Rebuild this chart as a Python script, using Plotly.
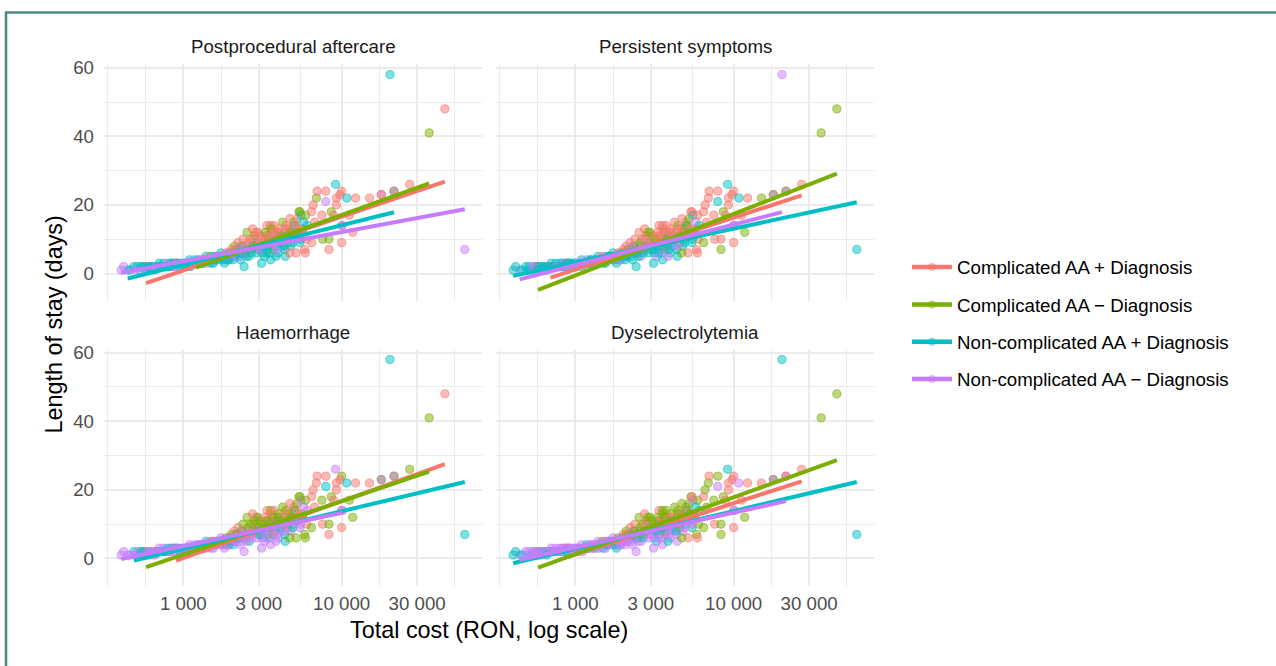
import numpy as np
import plotly.graph_objects as go

# ---------------- data ----------------
panel_titles = ["Postprocedural aftercare", "Persistent symptoms", "Haemorrhage", "Dyselectrolytemia"]
group_names = ["Complicated AA + Diagnosis", "Complicated AA \u2212 Diagnosis",
               "Non-complicated AA + Diagnosis", "Non-complicated AA \u2212 Diagnosis"]
group_colors = ["#F8766D", "#7CAE00", "#00BFC4", "#C77CFF"]
x_tick_values = [1000, 3000, 10000, 30000]
x_tick_labels = ["1 000", "3 000", "10 000", "30 000"]
y_tick_values = [0, 20, 40, 60]

# total cost (RON) per patient
cost = [405, 445, 487, 510, 530, 548, 565, 582, 590, 605, 620, 640, 655, 672, 690, 697, 705, 720, 738, 752,
        768, 785, 800, 815, 832, 848, 862, 878, 895, 900, 910,
        930, 950, 975, 1000, 1020, 1045, 1070, 1095, 1120, 1150, 1180, 1200, 1210, 1240, 1270, 1300, 1330, 1360, 1390, 1420,
        1450, 1480, 1510, 1545, 1580, 1615, 1650, 1690, 1730, 1770,
        1800, 1830, 1860, 1890, 1920, 1950, 1980, 2010, 2040, 2070, 2100, 2130, 2160, 2190, 2220, 2250, 2280, 2310, 2340, 2380,
        2420, 2450, 2490, 2530, 2570, 2610, 2650, 2700, 2740, 2780, 2830, 2880, 2930, 2980, 3040, 3100,
        3150, 3200, 3250, 3300, 3350, 3380, 3420, 3460, 3500, 3550, 3600, 3640, 3690, 3740, 3790, 3840, 3900, 3950, 4000, 4060,
        4120, 4180, 4240, 4300, 4370, 4440, 4500, 4570, 4640, 4710, 4780, 4850, 4920, 5000, 5070, 5150, 5230, 5300, 5380, 5450,
        5530, 5600, 5680, 5760, 5840, 5920, 6000, 6080, 3560, 3850, 4400, 3120, 4700, 5900,
        420, 460, 500, 540, 575, 615, 660, 710, 760, 820, 880, 960, 1040, 1110, 1190, 1260, 1340, 1410, 1500, 1590,
        1550, 1600, 1640, 1700, 1750, 1820, 1880, 1940, 2000, 2060, 2120, 2180, 2240, 2300, 2360, 2430, 2500, 2560, 2630, 2690,
        2760, 2820, 2900, 2960, 3020, 3080, 3170, 3230, 3290, 3360, 3430, 3510, 3580, 3660, 3720, 3810, 3880, 3970, 4080, 4200,
        4330, 4480, 4620, 4760, 4900, 5050, 5200, 5350, 5500, 5650,
        6920, 7000, 7940, 10000, 9770, 7940, 9270, 10790, 12250, 6600, 9270, 6460, 5450, 8610, 7500, 8900, 11200, 6760, 10000, 7590,
        8320, 8320, 6460, 10000, 11750, 9160, 10100, 15000, 17800, 17800, 21400, 21400, 26900, 20200, 35700, 44900, 60000]
# length of stay (days)
los = [1, 1, 2, 2, 1, 2, 2, 2, 2, 1, 2, 2, 2, 2, 2, 2, 3, 2, 2, 3,
       2, 2, 3, 2, 3, 3, 2, 3, 3, 3, 3,
       3, 2, 3, 3, 2, 3, 3, 4, 3, 3, 4, 3, 3, 4, 4, 3, 4, 4, 5, 4,
       4, 5, 4, 5, 4, 5, 5, 5, 6, 4,
       5, 4, 6, 5, 4, 6, 5, 7, 5, 6, 8, 5, 7, 6, 9, 5, 7, 6, 8, 10,
       2, 7, 6, 12, 8, 5, 10, 7, 13, 8, 11, 12, 9, 7, 11, 8,
       6, 9, 5, 11, 8, 14, 7, 10, 6, 14, 9, 12, 7, 14, 10, 8, 11, 6, 13, 9,
       12, 8, 15, 10, 7, 14, 11, 9, 13, 16, 8, 12, 10, 15, 14, 6, 16, 11, 18, 9,
       17, 13, 12, 15, 7, 17, 10, 14, 4, 5, 5, 3, 6, 6,
       2, 1, 1, 2, 1, 2, 1, 2, 2, 2, 2, 2, 3, 2, 3, 3, 3, 3, 3, 4,
       3, 4, 5, 4, 5, 3, 5, 4, 6, 4, 5, 7, 6, 4, 8, 6, 5, 9, 7, 6,
       10, 8, 6, 12, 9, 7, 10, 8, 12, 6, 11, 9, 13, 8, 12, 10, 7, 12, 9, 11,
       8, 13, 10, 12, 9, 14, 11, 13, 10, 12,
       22, 24, 24, 24, 23, 21, 22, 22, 22, 20, 20, 18, 18, 18, 17, 17, 17, 15, 14, 10,
       10, 7, 9, 9, 12, 26, 14, 22, 23, 23, 24, 24, 26, 58, 41, 48, 7]
# 1 = complicated acute appendicitis
complicated = [0, 0, 0, 0, 0, 0, 0, 1, 0, 0, 0, 0, 0, 0, 0, 1, 0, 0, 0, 0,
               0, 0, 0, 0, 0, 0, 0, 0, 0, 1, 0,
               0, 0, 0, 0, 0, 0, 1, 0, 0, 0, 0, 1, 0, 0, 0, 0, 1, 0, 0, 0,
               0, 1, 0, 0, 0, 0, 1, 0, 0, 0,
               0, 0, 1, 0, 0, 0, 0, 1, 0, 0, 1, 0, 1, 0, 1, 0, 0, 0, 0, 1,
               0, 0, 1, 1, 0, 0, 1, 0, 1, 0, 1, 1, 0, 1, 1, 0,
               0, 1, 0, 1, 0, 1, 0, 1, 0, 1, 0, 1, 1, 1, 0, 1, 0, 0, 1, 0,
               1, 0, 1, 1, 0, 1, 0, 1, 1, 1, 0, 1, 0, 1, 0, 1, 1, 0, 1, 0,
               0, 1, 1, 0, 1, 1, 1, 0, 0, 0, 0, 0, 1, 1,
               0, 0, 0, 0, 0, 0, 0, 0, 0, 0, 0, 0, 0, 0, 0, 0, 0, 0, 0, 0,
               0, 0, 0, 0, 1, 0, 0, 0, 1, 0, 0, 1, 0, 0, 1, 0, 0, 1, 1, 0,
               1, 1, 0, 1, 1, 0, 1, 0, 1, 0, 1, 1, 1, 0, 1, 1, 0, 1, 0, 1,
               0, 1, 1, 1, 0, 1, 1, 1, 0, 1,
               1, 1, 1, 1, 1, 0, 1, 0, 1, 1, 1, 1, 1, 1, 1, 1, 1, 1, 1, 1,
               1, 1, 1, 1, 1, 0, 0, 1, 0, 1, 0, 1, 1, 0, 1, 1, 0]
# diagnosis present (1) / absent (0), one list per panel
dx_postprocedural = [0, 1, 1, 1, 0, 1, 1, 1, 1, 0, 1, 1, 1, 0, 1, 1, 1, 1, 0, 1,
                     1, 1, 0, 1, 1, 1, 0, 1, 1, 1, 0,
                     1, 1, 1, 0, 1, 1, 1, 1, 0, 1, 1, 0, 1, 1, 0, 1, 1, 1, 1, 0,
                     1, 0, 1, 1, 0, 1, 1, 1, 1, 0,
                     1, 1, 1, 0, 1, 1, 1, 1, 0, 1, 0, 1, 1, 1, 1, 0, 1, 1, 1, 1,
                     1, 0, 0, 0, 1, 1, 1, 0, 1, 1, 0, 1, 1, 0, 1, 0,
                     1, 1, 1, 1, 0, 1, 1, 0, 1, 1, 1, 1, 0, 1, 1, 1, 0, 1, 1, 1,
                     1, 1, 0, 1, 1, 1, 1, 0, 1, 1, 1, 1, 0, 0, 1, 1, 1, 1, 0, 1,
                     1, 1, 0, 1, 1, 0, 1, 1, 1, 1, 1, 1, 1, 1,
                     0, 1, 0, 1, 1, 1, 0, 1, 1, 1, 0, 1, 1, 1, 0, 1, 1, 0, 1, 1,
                     1, 1, 0, 1, 1, 1, 0, 1, 1, 1, 0, 1, 1, 1, 1, 0, 1, 1, 0, 1,
                     1, 0, 1, 1, 1, 0, 1, 1, 0, 1, 1, 1, 0, 1, 1, 1, 0, 1, 1, 0,
                     1, 1, 1, 0, 1, 1, 0, 1, 1, 1,
                     0, 1, 1, 1, 1, 0, 1, 1, 1, 1, 1, 1, 0, 0, 1, 1, 1, 1, 1, 0,
                     0, 1, 1, 1, 1, 1, 0, 1, 0, 1, 1, 1, 1, 1, 0, 1, 0]
dx_persistent = [1, 0, 1, 1, 1, 0, 1, 0, 1, 1, 0, 1, 1, 1, 0, 1, 1, 1, 0, 1,
                 1, 0, 1, 1, 1, 0, 1, 1, 1, 1, 1,
                 1, 0, 1, 1, 1, 0, 1, 1, 1, 1, 0, 0, 1, 1, 1, 0, 1, 1, 1, 0,
                 1, 1, 1, 0, 1, 1, 0, 1, 1, 1,
                 1, 0, 1, 1, 1, 1, 0, 1, 1, 1, 1, 1, 0, 1, 1, 1, 1, 0, 1, 1,
                 1, 1, 0, 1, 1, 0, 1, 1, 1, 1, 1, 0, 1, 0, 1, 1,
                 1, 1, 0, 1, 1, 1, 1, 1, 0, 1, 1, 0, 1, 1, 1, 1, 1, 1, 1, 0,
                 1, 1, 1, 1, 1, 0, 1, 1, 1, 1, 1, 0, 1, 1, 1, 1, 0, 1, 1, 1,
                 1, 1, 0, 0, 1, 1, 1, 1, 1, 0, 1, 1, 0, 1,
                 1, 1, 1, 0, 1, 1, 1, 1, 0, 1, 1, 1, 0, 1, 1, 1, 0, 1, 1, 1,
                 1, 1, 1, 0, 1, 1, 1, 0, 1, 1, 1, 1, 0, 1, 1, 1, 1, 0, 1, 1,
                 1, 1, 1, 0, 1, 1, 0, 1, 1, 1, 1, 0, 1, 1, 1, 0, 1, 1, 1, 1,
                 0, 1, 1, 1, 1, 0, 1, 1, 1, 0,
                 1, 1, 1, 1, 1, 1, 1, 1, 1, 1, 1, 1, 1, 0, 1, 1, 1, 1, 1, 1,
                 1, 0, 0, 1, 0, 1, 0, 0, 1, 1, 1, 1, 1, 0, 0, 0, 1]
dx_haemorrhage = [0, 0, 1, 0, 0, 0, 1, 0, 0, 0, 1, 0, 0, 0, 1, 0, 0, 0, 1, 0,
                  0, 0, 1, 0, 0, 1, 0, 0, 0, 1, 1,
                  0, 0, 1, 0, 0, 0, 1, 0, 1, 0, 0, 0, 0, 1, 0, 0, 0, 0, 1, 0,
                  0, 1, 0, 1, 0, 0, 0, 1, 0, 0,
                  0, 1, 0, 0, 0, 1, 0, 0, 0, 0, 1, 0, 0, 1, 1, 0, 0, 0, 1, 0,
                  0, 0, 0, 0, 0, 1, 0, 0, 1, 0, 0, 1, 0, 0, 0, 1,
                  0, 1, 0, 0, 0, 1, 0, 0, 1, 0, 0, 1, 0, 1, 0, 0, 1, 0, 0, 0,
                  1, 0, 0, 0, 1, 0, 0, 1, 0, 1, 0, 0, 0, 1, 0, 0, 0, 1, 0, 0,
                  0, 1, 0, 0, 0, 0, 1, 0, 0, 0, 1, 0, 0, 0,
                  0, 0, 0, 1, 0, 0, 0, 0, 1, 0, 0, 1, 0, 0, 0, 1, 0, 0, 0, 1,
                  0, 0, 1, 0, 0, 0, 1, 0, 0, 1, 0, 0, 1, 0, 1, 0, 0, 0, 1, 0,
                  0, 1, 0, 0, 0, 1, 0, 0, 1, 0, 0, 0, 1, 0, 0, 1, 0, 0, 1, 0,
                  0, 1, 0, 0, 1, 0, 0, 1, 0, 0,
                  1, 1, 1, 0, 1, 1, 1, 1, 1, 1, 1, 1, 0, 0, 0, 1, 0, 1, 1, 1,
                  0, 1, 0, 1, 0, 0, 0, 1, 1, 1, 1, 1, 0, 1, 0, 1, 1]
dx_dyselectrolytemia = [1, 0, 0, 0, 1, 0, 0, 0, 0, 0, 1, 0, 1, 0, 0, 0, 0, 1, 0, 0,
                        0, 1, 0, 0, 0, 0, 1, 0, 0, 1, 0,
                        0, 1, 0, 0, 0, 1, 0, 0, 0, 0, 1, 0, 0, 0, 0, 1, 1, 0, 0, 1,
                        0, 0, 0, 0, 1, 0, 0, 0, 0, 1,
                        0, 0, 0, 1, 0, 0, 0, 1, 0, 1, 0, 0, 0, 0, 1, 0, 1, 0, 0, 1,
                        0, 1, 0, 0, 0, 0, 0, 0, 1, 0, 0, 0, 1, 1, 0, 0,
                        0, 0, 1, 0, 0, 1, 1, 0, 0, 0, 0, 0, 1, 0, 0, 1, 0, 0, 0, 1,
                        1, 0, 0, 1, 0, 0, 0, 0, 1, 0, 0, 0, 1, 0, 0, 1, 0, 0, 0, 1,
                        0, 1, 0, 1, 0, 0, 0, 1, 0, 1, 0, 0, 0, 1,
                        1, 1, 0, 0, 0, 0, 1, 0, 0, 0, 1, 0, 0, 0, 1, 0, 0, 0, 1, 0,
                        0, 1, 0, 0, 0, 1, 0, 0, 1, 0, 0, 1, 0, 0, 0, 1, 0, 0, 0, 1,
                        1, 0, 0, 0, 1, 0, 0, 1, 0, 0, 1, 0, 0, 1, 0, 0, 0, 1, 0, 0,
                        1, 0, 0, 1, 0, 0, 1, 0, 0, 1,
                        0, 1, 0, 1, 1, 0, 1, 0, 1, 0, 1, 1, 1, 0, 0, 1, 1, 0, 1, 1,
                        0, 0, 0, 1, 0, 1, 0, 1, 1, 1, 0, 1, 1, 1, 0, 0, 1]

# fitted linear models LOS = intercept + slope*log10(cost), per panel, groups in legend order
fit_intercept_postprocedural = [-46.13, -49.49, -31.88, -22.06]
fit_slope_postprocedural = [15.67, 16.64, 11.49, 8.54]
fit_intercept_persistent = [-44.19, -54.49, -26.51, -33.00]
fit_slope_persistent = [15.12, 17.97, 9.90, 11.82]
fit_intercept_haemorrhage = [-49.49, -45.50, -30.06, -25.38]
fit_slope_haemorrhage = [16.55, 15.55, 10.96, 9.66]
fit_intercept_dyselectrolytemia = [-43.54, -48.71, -29.87, -27.33]
fit_slope_dyselectrolytemia = [14.91, 16.64, 10.92, 10.17]

# ---------------- build ----------------
W, H = 1276, 666
FONT = "Liberation Sans, Arial, Helvetica, sans-serif"


def vy(y):
    # vertical pixel position (from top) -> layout pixel position
    return (y - 5.4) / 0.991


dx_by_panel = [dx_postprocedural, dx_persistent, dx_haemorrhage, dx_dyselectrolytemia]
icpt_by_panel = [fit_intercept_postprocedural, fit_intercept_persistent,
                 fit_intercept_haemorrhage, fit_intercept_dyselectrolytemia]
slope_by_panel = [fit_slope_postprocedural, fit_slope_persistent,
                  fit_slope_haemorrhage, fit_slope_dyselectrolytemia]

cost_a = np.array(cost, dtype=float)
los_a = np.array(los, dtype=float)
comp_a = np.array(complicated)


def rgba(hexc, a):
    h = hexc.lstrip("#")
    return "rgba(%d,%d,%d,%.2f)" % (int(h[0:2], 16), int(h[2:4], 16), int(h[4:6], 16), a)


fig = go.Figure()
line_y_all = []
groups_by_panel = []
for p in range(4):
    dx = np.array(dx_by_panel[p])
    grp = np.where(comp_a == 1, 0, 2) + np.where(dx == 1, 0, 1)
    groups_by_panel.append(grp)
    for g in range(4):
        m = grp == g
        xs = np.array([cost_a[m].min(), cost_a[m].max()])
        ys = icpt_by_panel[p][g] + slope_by_panel[p][g] * np.log10(xs)
        line_y_all.extend(ys.tolist())

# axis ranges like ggplot (5% expansion)
lx0, lx1 = np.log10(cost_a.min()), np.log10(cost_a.max())
dxr = (lx1 - lx0) * 0.05
x_range = [lx0 - dxr, lx1 + dxr]
y_lo = min(min(line_y_all), los_a.min())
y_hi = max(max(line_y_all), los_a.max())
dyr = (y_hi - y_lo) * 0.05
y_range = [y_lo - dyr, y_hi + dyr]

# minor breaks as in ggplot (midpoints of major breaks in log space)
lt = np.log10(x_tick_values)
step = lt[1] - lt[0]
ext = np.concatenate([[lt[0] - step], lt, [lt[-1] + step]])
minor_log = [ext[0]] + [(a + b) / 2 for a, b in zip(ext[:-1], ext[1:])]
x_minor = [10 ** v for v in minor_log]
y_minor = [10, 30, 50]

# panel pixel boxes (left, right, top, bottom)
boxes = [(104, 482, vy(62.3), vy(299.6)), (496, 874, vy(62.3), vy(299.6)),
         (104, 482, vy(347.7), vy(585.0)), (496, 874, vy(347.7), vy(585.0))]
title_y = [vy(45), vy(45), vy(331), vy(331)]

for p in range(4):
    grp = groups_by_panel[p]
    ax = "" if p == 0 else str(p + 1)
    fills = [rgba(group_colors[g], 0.5) for g in grp]
    edges = [rgba(group_colors[g], 0.6) for g in grp]
    fig.add_trace(go.Scatter(
        x=cost_a, y=los_a, mode="markers", showlegend=False, hoverinfo="skip",
        marker=dict(size=8.2, color=fills, line=dict(color=edges, width=1)),
        xaxis="x" + ax, yaxis="y" + ax))
    for g in range(4):
        m = grp == g
        xs = np.array([cost_a[m].min(), cost_a[m].max()])
        ys = icpt_by_panel[p][g] + slope_by_panel[p][g] * np.log10(xs)
        fig.add_trace(go.Scatter(
            x=xs, y=ys, mode="lines", showlegend=False, hoverinfo="skip",
            line=dict(color=group_colors[g], width=4),
            xaxis="x" + ax, yaxis="y" + ax))

# legend entries
for g in range(4):
    fig.add_trace(go.Scatter(
        x=[None], y=[None], mode="lines+markers", name=group_names[g],
        legendgroup="g%d" % g,
        line=dict(color=group_colors[g], width=4.5),
        marker=dict(size=8, color=rgba(group_colors[g], 0.5)),
        xaxis="x", yaxis="y"))

layout = dict(
    width=W, height=H, autosize=False,
    margin=dict(l=0, r=0, t=0, b=0),
    paper_bgcolor="white", plot_bgcolor="white",
    font=dict(family=FONT, color="#000000"),
    showlegend=True,
    legend=dict(x=907 / W, xanchor="left", y=1 - 244 / H, yanchor="top",
                font=dict(size=18.7, color="#000000", family=FONT),
                itemwidth=40, tracegroupgap=10, bgcolor="rgba(0,0,0,0)"),
)

for p in range(4):
    l, r, t, b = boxes[p]
    ax = "" if p == 0 else str(p + 1)
    layout["xaxis" + ax] = dict(
        type="log", range=x_range, domain=[l / W, r / W], anchor="y" + ax,
        tickvals=x_tick_values, ticktext=x_tick_labels, showticklabels=(p >= 2),
        tickfont=dict(size=18.7, color="#4D4D4D", family=FONT), ticks="",
        ticklabelstandoff=5,
        showgrid=True, gridcolor="#EBEBEB", gridwidth=2, zeroline=False, showline=False,
        minor=dict(tickvals=x_minor, showgrid=True, gridcolor="#EBEBEB", gridwidth=1, ticks=""))
    layout["yaxis" + ax] = dict(
        range=y_range, domain=[1 - b / H, 1 - t / H], anchor="x" + ax,
        tickvals=y_tick_values, showticklabels=(p % 2 == 0),
        tickfont=dict(size=18.7, color="#4D4D4D", family=FONT), ticks="",
        ticklabelstandoff=9,
        showgrid=True, gridcolor="#EBEBEB", gridwidth=2, zeroline=False, showline=False,
        minor=dict(tickvals=y_minor, showgrid=True, gridcolor="#EBEBEB", gridwidth=1, ticks=""))

annotations = []
for p in range(4):
    l, r, t, b = boxes[p]
    annotations.append(dict(
        text=panel_titles[p], xref="paper", yref="paper",
        x=(l + r) / 2 / W, y=1 - title_y[p] / H, xanchor="center", yanchor="middle",
        showarrow=False, font=dict(size=18.7, color="#1A1A1A", family=FONT)))
annotations.append(dict(
    text="Total cost (RON, log scale)", xref="paper", yref="paper",
    x=489 / W, y=1 - vy(629) / H, xanchor="center", yanchor="middle", showarrow=False,
    font=dict(size=23.4, color="#000000", family=FONT)))
annotations.append(dict(
    text="Length of stay (days)", xref="paper", yref="paper", textangle=-90,
    x=54 / W, y=1 - vy(323.5) / H, xanchor="center", yanchor="middle", showarrow=False,
    font=dict(size=23.4, color="#000000", family=FONT)))
layout["annotations"] = annotations

layout["shapes"] = [dict(
    type="rect", xref="paper", yref="paper",
    x0=6.0 / W, x1=1.05, y0=-0.05, y1=1 - vy(11) / H,
    line=dict(color="#4B8987", width=2.5), fillcolor="rgba(0,0,0,0)", layer="above")]

fig.update_layout(**layout)
fig.write_html("out.html")
